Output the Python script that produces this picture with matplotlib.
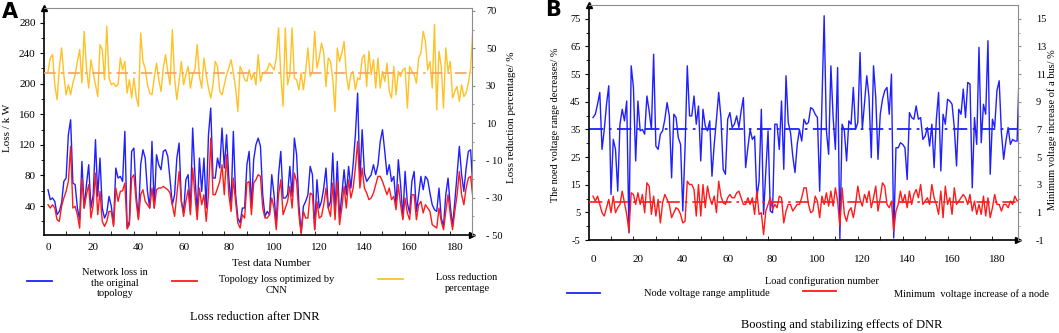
import numpy as np
import matplotlib
matplotlib.use("Agg")
import matplotlib.pyplot as plt
from matplotlib.ticker import FixedLocator

plt.rcParams['font.family'] = ['Liberation Serif', 'DejaVu Serif']
plt.rcParams['axes.unicode_minus'] = False

# ---------------- panel A data (Loss / kW and loss reduction %) ----------------
loss_original = [
    61.3, 48.3, 50.5, 46.1, 28.7, 33.0, 43.9, 72.2, 76.6, 133.2,
    152.8, 70.1, 67.9, 37.4, 22.1, 98.4, 37.4, 67.9, 94.0, 37.4,
    54.8, 126.7, 52.6, 102.7, 37.4, 24.3, 30.9, 52.6, 39.6, 15.6,
    89.7, 76.6, 78.8, 72.2, 137.6, 12.0, 20.0, 111.5, 115.8, 54.8,
    24.3, 94.0, 113.6, 102.7, 59.2, 37.4, 124.5, 37.4, 107.1, 94.0,
    87.5, 111.5, 113.6, 104.9, 74.4, 41.7, 54.8, 102.7, 122.3, 46.1,
    33.0, 74.4, 81.0, 33.0, 142.0, 81.0, 28.7, 102.7, 59.2, 102.7,
    37.4, 133.2, 168.1, 76.6, 76.6, 102.7, 89.7, 142.0, 89.7, 133.2,
    76.6, 41.7, 137.6, 54.8, 24.3, 17.8, 37.4, 37.4, 94.0, 111.5,
    37.4, 100.6, 120.2, 128.9, 118.0,
    54.8, 26.5, 33.0, 28.7, 81.0, 54.8, 15.6, 81.0, 111.5, 50.5,
    50.5, 54.8, 91.8, 52.6, 128.9, 107.1, 41.7, 5.0, 39.6, 46.1,
    54.8, 91.8, 81.0, 9.1, 74.4, 37.4, 46.1, 63.5, 89.7, 37.4,
    46.1, 109.3, 33.0, 98.4, 24.3, 54.8, 87.5, 54.8, 91.8, 63.5,
    94.0, 133.2, 187.7, 72.2, 139.8, 83.1, 72.2, 76.6, 81.0, 94.0,
    81.0, 94.0, 124.5, 139.8, 111.5, 81.0, 94.0, 72.2, 78.8, 41.7,
    100.6, 67.9, 24.3, 85.3, 43.9, 30.9, 72.2, 85.3, 33.0, 54.8,
    78.8, 61.3, 78.8, 74.4, 57.0, 41.7, 35.2, 33.0, 63.5, 24.3,
    13.4, 54.8, 76.6, 39.6, 13.4, 46.1, 81.0, 118.0, 81.0, 59.2,
    89.7, 111.5, 113.6, 63.5, 20.0,
]
loss_cnn = [
    41.7, 37.4, 41.7, 37.4, 22.1, 20.0, 39.6, 50.5, 59.2, 72.2,
    118.0, 37.4, 39.6, 28.7, 11.2, 76.6, 37.4, 54.8, 67.9, 24.3,
    41.7, 83.1, 28.7, 59.2, 20.0, 13.4, 20.0, 33.0, 33.0, 13.4,
    63.5, 46.1, 59.2, 60.0, 70.1, 10.0, 15.6, 76.6, 81.0, 46.1,
    22.1, 54.8, 61.3, 46.1, 41.7, 37.4, 63.5, 37.4, 61.3, 63.5,
    63.5, 65.7, 63.5, 61.3, 57.0, 41.7, 26.5, 54.8, 85.3, 46.1,
    26.5, 46.1, 61.3, 28.7, 89.7, 54.8, 22.1, 63.5, 41.7, 54.8,
    20.0, 54.8, 128.9, 54.8, 54.8, 63.5, 72.2, 94.0, 54.8, 107.1,
    54.8, 33.0, 76.6, 46.1, 17.8, 11.2, 28.7, 24.3, 70.1, 72.2,
    28.7, 70.1, 74.4, 81.0, 78.8,
    37.4, 24.3, 24.3, 28.7, 50.5, 37.4, 9.1, 54.8, 74.4, 28.7,
    37.4, 46.1, 65.7, 37.4, 83.1, 72.2, 28.7, 4.0, 33.0, 24.3,
    24.3, 57.0, 54.8, 9.1, 46.1, 24.3, 26.5, 41.7, 63.5, 37.4,
    26.5, 70.1, 22.1, 72.2, 15.6, 37.4, 65.7, 37.4, 74.4, 50.5,
    63.5, 89.7, 124.5, 63.5, 89.7, 63.5, 57.0, 48.3, 50.5, 57.0,
    67.9, 78.8, 78.8, 72.2, 63.5, 54.8, 63.5, 48.3, 52.6, 35.2,
    67.9, 41.7, 22.1, 50.5, 30.9, 22.1, 54.8, 54.8, 22.1, 41.7,
    46.1, 30.9, 41.7, 37.4, 33.0, 15.6, 13.4, 11.2, 37.4, 20.0,
    9.1, 33.0, 54.8, 28.7, 9.1, 33.0, 54.8, 85.3, 54.8, 41.7,
    63.5, 76.6, 78.8, 50.5, 20.0,
]
loss_reduction = [
    37.6, 44.8, 46.6, 30.5, 22.5, 39.4, 50.2, 35.9, 25.1, 30.5,
    25.1, 31.4, 35.9, 43.0, 49.3, 31.4, 59.1, 39.4, 28.7, 43.9,
    36.8, 30.5, 24.2, 52.0, 49.3, 33.2, 61.8, 34.1, 30.5, 31.4,
    29.6, 30.5, 44.8, 38.5, 43.0, 26.0, 33.2, 23.4, 34.1, 24.2,
    18.9, 58.2, 43.0, 39.4, 30.5, 26.0, 25.1, 34.1, 42.1, 33.2,
    26.9, 39.4, 46.6, 37.6, 30.5, 60.0, 34.1, 22.5, 32.3, 43.0,
    30.5, 35.9, 40.3, 28.7, 35.9, 38.5, 52.0, 35.0, 28.7, 44.8,
    35.9, 28.7, 23.4, 30.5, 43.0, 40.3, 26.9, 25.1, 30.5, 35.9,
    39.4, 43.9, 36.8, 28.7, 16.2, 40.3, 37.6, 33.2, 32.3, 38.5,
    33.2, 36.8, 30.5, 46.6, 32.3,
    36.8, 37.3, 38.5, 42.1, 40.3, 38.5, 44.8, 60.9, 35.9, 18.9,
    60.9, 30.5, 35.9, 60.9, 34.1, 33.2, 27.8, 36.8, 27.8, 37.6,
    50.2, 35.0, 37.6, 59.1, 39.4, 44.8, 52.8, 47.5, 29.6, 44.8,
    43.0, 33.2, 16.2, 50.2, 43.0, 47.5, 53.7, 35.9, 27.8, 35.9,
    37.6, 27.8, 34.1, 33.2, 44.8, 46.6, 29.6, 48.4, 35.9, 43.9,
    28.7, 44.8, 28.7, 37.6, 32.3, 42.1, 26.9, 23.4, 40.3, 25.1,
    37.6, 35.0, 38.5, 39.4, 18.0, 40.3, 37.6, 35.9, 31.4, 44.8,
    47.5, 59.1, 53.7, 38.5, 43.0, 28.7, 62.7, 17.1, 48.4, 40.3,
    18.0, 50.2, 37.6, 43.0, 23.4, 26.9, 29.6, 21.6, 30.5, 24.2,
    26.0, 31.4, 39.4, 60.9, 63.6,
]
reduction_mean = 37.0

# ---------------- panel B data (voltage range decrease %, min voltage increase %) ----------------
voltage_range = [
    39.3, 40.5, 44.1, 48.4, 27.8, 35.0, 44.1, 50.8, 11.5, 31.4,
    27.8, 12.7, 36.9, 42.3, 38.1, 45.3, -2.4, 58.0, 50.2, 23.6,
    45.3, 34.5, 35.0, 33.3, 47.1, 41.7, 35.0, 62.2, 29.0, 27.8,
    33.3, 34.5, 38.7, 44.7, 39.9, 17.5, 40.5, 39.3, 32.0, 29.6,
    5.5, 28.4, 58.0, 39.9, 39.9, 47.1, 36.9, 43.5, 23.6, 42.3,
    36.3, 34.5, 38.1, 18.1, 29.6, 38.7, 48.4, 39.3, 20.6, 18.8,
    38.7, 41.1, 35.7, 36.9, 39.9, 35.7, 41.7, 46.5, 21.2, 28.4,
    35.0, 31.4, 32.6, 10.3, 16.3, 42.3, 4.3, 20.0, 34.5, 5.5,
    4.9, 36.9, 36.9, 27.8, 45.3, 20.6, 54.4, 37.5, 33.9, 25.4,
    19.4, 29.6, 35.0, 30.8, 38.7, 36.9,
    37.5, 42.9, 42.3, 40.5, 39.3, 12.7, 44.1, 76.1, 34.5, 26.0,
    58.0, 39.3, 27.8, 57.4, -4.5, 36.9, 34.5, 23.6, 38.1, 36.9,
    50.2, 35.0, 37.5, 62.8, 35.0, 44.7, 54.4, 46.5, 24.8, 58.0,
    46.5, 24.2, 40.5, 45.9, 49.0, 50.2, 40.5, 55.0, -4.2, 28.4,
    28.4, 30.2, 29.6, 28.4, 16.9, 41.1, 39.3, 38.7, 43.5, 38.7,
    39.3, 31.4, 32.6, 35.7, 29.0, 36.9, 21.2, 38.7, 48.4, 20.0,
    40.5, 36.9, 45.9, 45.3, 44.1, 35.7, 21.8, 42.3, 40.5, 49.6,
    39.3, 52.0, 51.4, 13.9, 39.3, 29.6, 64.7, 30.2, 44.1, 40.5,
    67.1, 18.8, 38.7, 35.7, 49.0, 52.6, 33.9, 24.2, 30.8, 35.7,
    29.6, 31.4, 30.8, 30.8, 58.6,
]
min_voltage_increase = [
    2.18, 1.82, 2.18, 1.58, 0.98, 0.74, 1.34, 1.94, 0.98, 2.18,
    0.98, 1.34, 1.58, 2.54, 1.70, 0.86, -0.36, 2.42, 2.30, 1.58,
    2.42, 1.58, 2.30, 0.98, 3.14, 2.90, 0.86, 2.18, 0.74, 1.94,
    0.24, 1.70, 2.30, 1.94, 1.58, 0.62, 0.98, 1.34, 1.22, 0.86,
    0.24, 0.36, 3.26, 3.02, 3.02, 2.66, 0.74, 3.02, 0.74, 3.02,
    1.34, 2.90, 2.06, 1.58, 2.18, 0.98, 3.26, 2.18, 1.70, 1.58,
    2.06, 2.30, 2.06, 2.06, 2.42, 2.54, 2.06, 1.58, 1.58, 2.06,
    1.58, 2.06, 0.86, 2.54, 0.86, 0.98, -0.60, 1.10, 1.58, 2.06,
    1.22, 1.58, 1.34, 2.18, 2.06, 0.24, 1.10, 1.58, 1.58, 1.10,
    1.34, 1.58, 1.58, 2.06, 2.78, 2.78,
    1.58, 0.98, 1.10, 2.18, 1.82, 0.62, 2.18, 1.58, 2.42, 1.46,
    2.54, 1.46, 2.78, 1.82, 0.00, 2.78, 0.86, 0.36, 1.10, 1.34,
    0.62, 1.58, 2.90, 1.94, 1.46, 2.30, 1.82, 2.54, 1.34, 2.06,
    2.90, 1.10, 2.06, 3.14, 2.90, 1.58, 1.34, 1.82, -0.36, 1.10,
    1.58, 2.54, 1.70, 2.30, 1.34, 2.54, 1.58, 2.30, 2.66, 2.06,
    3.02, 1.58, 1.82, 2.06, 1.58, 3.02, 2.06, 1.58, 0.86, 2.54,
    0.62, 2.90, 1.58, 2.06, 0.86, 2.78, 1.58, 1.82, 2.06, 2.30,
    2.06, 1.58, 2.30, 1.10, 1.82, 0.86, 1.58, 0.86, 2.18, 0.74,
    2.06, 0.62, 1.34, 2.30, 1.58, 1.58, 1.10, 1.58, 1.58, 1.34,
    1.82, 1.58, 2.18, 1.82, 1.82,
]
range_mean = 35.2
increase_mean = 1.72

x_ticks = [0, 20, 40, 60, 80, 100, 120, 140, 160, 180]
A_left_ticks = [40, 80, 120, 160, 200, 240, 280]
A_right_ticks = [70, 50, 30, 10, -10, -30, -50]
A_right_labels = ['70', '50', '30', '10', '- 10', '- 30', '- 50']
B_left_ticks = [75, 65, 55, 45, 35, 25, 15, 5, -5]
B_right_ticks = [15, 13, 11, 9, 7, 5, 3, 1, -1]

BLUE = '#1f1fff'
RED = '#ff1a1a'
YELLOW = '#ffc125'
ORANGE = '#f4a261'


def style_axes(ax, ax2):
    # Origin-like frame: black arrowed left/bottom, grey top/right
    ax.spines['top'].set_color('#8c8c8c')
    ax.spines['right'].set_visible(False)
    for s in ['top', 'left', 'bottom']:
        ax2.spines[s].set_visible(False)
    ax2.spines['right'].set_color('#8c8c8c')
    ax.spines['left'].set_linewidth(1.2)
    ax.spines['bottom'].set_linewidth(1.2)
    ax.plot([0], [1], marker='^', color='k', ms=4, transform=ax.transAxes, clip_on=False)
    ax.plot([1], [0], marker='>', color='k', ms=5, transform=ax.transAxes, clip_on=False)
    ax.set_xticks(x_ticks)
    ax.xaxis.set_minor_locator(FixedLocator(np.arange(8, 181, 10)))
    ax.tick_params(axis='x', which='major', length=0, labelsize=8)
    ax.tick_params(axis='x', which='minor', direction='in', length=3)


fig = plt.figure(figsize=(10.59, 3.33), dpi=100)

# ---------------- panel A ----------------
axA = fig.add_axes([0.0415, 0.294, 0.4042, 0.682])
axA2 = axA.twinx()
xa = np.arange(len(loss_original))
axA.plot(xa, loss_original, color=BLUE, lw=1.0)
axA.plot(xa, loss_cnn, color=RED, lw=1.0)
axA2.plot(xa, loss_reduction, color=YELLOW, lw=1.0)
axA2.axhline(reduction_mean, color=ORANGE, lw=1.2, ls=(0, (7, 3, 1.5, 3)))
axA.set_xlim(-1.8, 187.6)
axA.set_ylim(2, 299)
axA2.set_ylim(-50, 71.6)
style_axes(axA, axA2)
axA.tick_params(axis='x', which='major', pad=6)
axA.set_yticks(A_left_ticks)
axA.yaxis.set_minor_locator(FixedLocator(np.arange(20, 300, 40)))
axA.tick_params(axis='y', which='major', length=3, labelsize=8, pad=3)
axA.tick_params(axis='y', which='minor', length=2)
axA2.set_yticks(A_right_ticks)
axA2.set_yticklabels(A_right_labels)
axA2.yaxis.set_minor_locator(FixedLocator(np.arange(-40, 71, 20)))
axA2.tick_params(axis='y', which='major', length=2, color='#8c8c8c', labelsize=7.5, pad=8)
axA2.tick_params(axis='y', which='minor', length=1.5, color='#8c8c8c')

# ---------------- panel B ----------------
axB = fig.add_axes([0.5562, 0.279, 0.4051, 0.706])
axB2 = axB.twinx()
xb = np.arange(len(voltage_range))
axB.plot(xb, voltage_range, color=BLUE, lw=1.0)
axB.axhline(range_mean, color=BLUE, lw=1.3, ls=(0, (8, 3, 1.5, 3)))
axB2.plot(xb, min_voltage_increase, color=RED, lw=1.0)
axB2.axhline(increase_mean, color=RED, lw=1.2, ls=(0, (8, 3, 1.5, 3)))
axB.set_xlim(-1.8, 189.4)
axB.set_ylim(-5, 80)
axB2.set_ylim(-1, 16)
style_axes(axB, axB2)
axB.tick_params(axis='x', which='major', pad=11)
axB.set_yticks(B_left_ticks)
axB.yaxis.set_minor_locator(FixedLocator(np.arange(0, 80, 10)))
axB.tick_params(axis='y', which='major', length=3, labelsize=7.5, pad=3)
axB.tick_params(axis='y', which='minor', length=2)
axB2.set_yticks(B_right_ticks)
axB2.yaxis.set_minor_locator(FixedLocator(np.arange(0, 16, 2)))
axB2.tick_params(axis='y', which='major', length=2, color='#8c8c8c', labelsize=7.5, pad=11)
axB2.tick_params(axis='y', which='minor', length=1.5, color='#8c8c8c')

# ---------------- texts ----------------
W, H = 1059.0, 333.0


def ftext(x, y, s, **kw):
    fig.text(x / W, 1 - y / H, s, **kw)


ftext(10, 12, 'A', fontsize=15, fontweight='bold', family='DejaVu Sans', ha='center', va='center')
ftext(553, 10, 'B', fontsize=15, fontweight='bold', family='DejaVu Sans', ha='center', va='center')

ftext(8, 128, 'Loss / k W', rotation=90, fontsize=8, ha='center', va='center')
ftext(512, 117, 'Loss reduction percentage/ %', rotation=90, fontsize=8, ha='center', va='center')
ftext(271, 264, 'Test data Number', fontsize=8, ha='center', va='center')
ftext(555, 125, 'The noed voltage range decreases/ %', rotation=90, fontsize=7.5, ha='center', va='center')
ftext(1052, 130, 'Minimum voltage increase of a bus/ %', rotation=90, fontsize=7.5, ha='center', va='center')
ftext(822, 281, 'Load configuration number', fontsize=7.5, ha='center', va='center')


# legend rows (drawn by hand to follow the source layout)
def legline(x0, x1, y, color):
    fig.add_artist(plt.Line2D([x0 / W, x1 / W], [1 - y / H, 1 - y / H], color=color, lw=1.3))


legline(27, 52, 281, BLUE)
ftext(115, 283, 'Network loss in\nthe original\ntopology', fontsize=7.5, ha='center', va='center',
      multialignment='center', linespacing=1.2)
legline(172, 197, 281, RED)
ftext(277, 285, 'Topology loss optimized by\nCNN', fontsize=7.5, ha='center', va='center',
      multialignment='center', linespacing=1.2)
legline(378, 403, 279, YELLOW)
ftext(467, 283, 'Loss reduction\npercentage', fontsize=7.5, ha='center', va='center',
      multialignment='center', linespacing=1.2)
ftext(255, 317, 'Loss reduction after DNR', fontsize=9, ha='center', va='center')

legline(567, 600, 293, BLUE)
ftext(707, 294, 'Node voltage range amplitude', fontsize=7.5, ha='center', va='center')
legline(803, 836, 291, RED)
ftext(971, 294, 'Minimum  voltage increase of a node', fontsize=7.5, ha='center', va='center')
ftext(842, 325, 'Boosting and stabilizing effects of DNR', fontsize=9, ha='center', va='center')

fig.savefig('out.png', dpi=100)
